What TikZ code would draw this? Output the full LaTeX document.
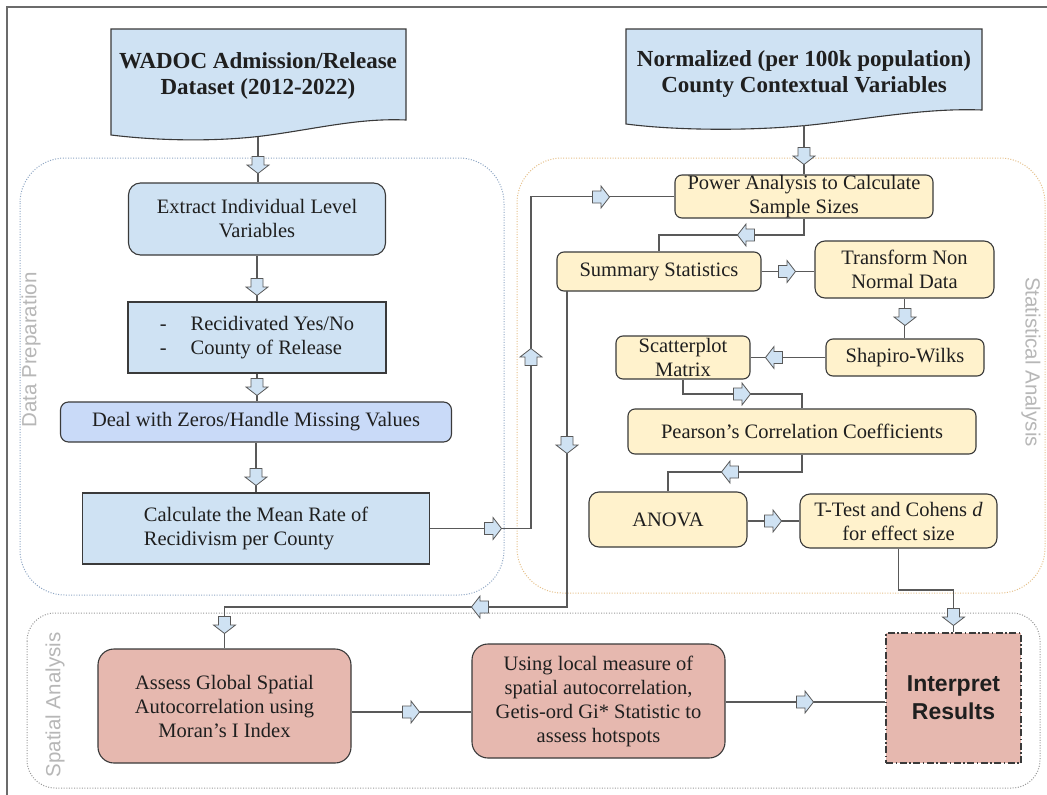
\documentclass[tikz,border=0pt]{standalone}
\usepackage{fontspec}
\setmainfont{Liberation Serif}
\newfontfamily\arialfont{Liberation Sans}
\usetikzlibrary{calc}
\definecolor{blueA}{HTML}{CFE2F3}
\definecolor{blueB}{HTML}{C9DAF8}
\definecolor{yellowA}{HTML}{FFF2CC}
\definecolor{redA}{HTML}{E6B8AF}
\definecolor{boxline}{HTML}{3A3A3A}
\definecolor{conncol}{HTML}{595959}
\definecolor{txt}{HTML}{1F1F1F}
\definecolor{prepcol}{HTML}{8EA6C4}
\definecolor{statcol}{HTML}{E6C08A}
\definecolor{spatcol}{HTML}{999999}
\definecolor{labelcol}{HTML}{B7B7B7}
\definecolor{framecol}{HTML}{6B6B6B}
\tikzset{
  box/.style={draw=boxline, line width=1.1pt, inner sep=0pt, align=center,
    font=\fontsize{20.5}{24}\selectfont, text=txt},
  bluebox/.style={box, fill=blueA},
  yellowbox/.style={box, fill=yellowA, rounded corners=7pt},
  redbox/.style={box, fill=redA, rounded corners=16pt},
  grp/.style={line width=1pt, dash pattern=on 1pt off 1.6pt},
  grplabel/.style={font=\arialfont\fontsize{20.5}{24}\selectfont, text=labelcol, inner sep=0pt},
  conn/.style={draw=conncol, line width=1.1pt},
  doctext/.style={font=\bfseries\fontsize{23}{26}\selectfont, text=txt, align=center, inner sep=0pt},
  docshape/.style={fill=blueA, draw=boxline, line width=1.1pt},
  pics/barrow/.style={code={
    \draw[fill=blueA, draw=conncol, line width=0.8pt, line join=miter]
      (-8.5,-6) -- (0,-6) -- (0,-11) -- (8.5,0) -- (0,11) -- (0,6) -- (-8.5,6) -- cycle;}}
}
\begin{document}
\begin{tikzpicture}[x=1pt,y=-1pt]
\useasboundingbox (0,0) rectangle (1047,795);
\fill[white] (0,0) rectangle (1047,795);
% outer frame
\draw[framecol, line width=1.5pt] (7,795) -- (7,7) -- (1047,7);

% group containers
\draw[grp, draw=prepcol, rounded corners=45pt] (20,158) rectangle (504,595);
\draw[grp, draw=statcol, rounded corners=45pt] (517,158) rectangle (1045,593);
\draw[grp, draw=spatcol, rounded corners=28pt] (27,613) rectangle (1040,788);
\node[grplabel, rotate=90] (lprep) at (31,350) {Data Preparation};
\node[grplabel, rotate=-90] (lstat) at (1031,362) {Statistical Analysis};
\node[grplabel, rotate=90] (lspat) at (55,705) {Spatial Analysis};

% document shapes
\draw[docshape] (111,135) -- (111,29) -- (406,29) -- (406,120)
   .. controls (360,118) and (320,128) .. (270,135)
   .. controls (220,142) and (160,141) .. (111,135) -- cycle;
\node[doctext] (doc1) at (258,76) {WADOC Admission/Release\\Dataset (2012-2022)};
\coordinate (doc1b) at (258,137);

\draw[docshape] (626,124) -- (626,29) -- (982,29) -- (982,110)
   .. controls (930,108) and (880,117) .. (820,124)
   .. controls (760,131) and (680,131) .. (626,124) -- cycle;
\node[doctext] (doc2) at (804,74) {Normalized (per 100k population)\\County Contextual Variables};
\coordinate (doc2b) at (804,125);

% data preparation boxes
\node[bluebox, rounded corners=12pt, minimum width=257, minimum height=72] (extract) at (257,219)
  {Extract Individual Level\\Variables};
\node[bluebox, minimum width=258, minimum height=71] (recid) at (257,337.5)
  {\begin{tabular}{@{}l@{\hspace{24pt}}l@{}}-&Recidivated Yes/No\\-&County of Release\end{tabular}};
\node[box, fill=blueB, rounded corners=8pt, minimum width=391, minimum height=40] (deal) at (256,422)
  {Deal with Zeros/Handle Missing Values};
\node[bluebox, minimum width=347, minimum height=71, align=left] (mean) at (256,528.5)
  {Calculate the Mean Rate of\\Recidivism per County};

% statistical analysis boxes
\node[yellowbox, minimum width=258, minimum height=43] (power) at (804,196.5)
  {Power Analysis to Calculate\\Sample Sizes};
\node[yellowbox, minimum width=204, minimum height=39] (summary) at (659,271.5)
  {Summary Statistics};
\node[yellowbox, rounded corners=10pt, minimum width=179, minimum height=57] (transform) at (904.5,269.5)
  {Transform Non\\Normal Data};
\node[yellowbox, minimum width=158, minimum height=37] (shapiro) at (905,357.5)
  {Shapiro-Wilks};
\node[yellowbox, minimum width=134, minimum height=43] (scatter) at (683,357.5)
  {Scatterplot\\Matrix};
\node[yellowbox, minimum width=348, minimum height=45] (pearson) at (802,431.5)
  {Pearson’s Correlation Coefficients};
\node[yellowbox, rounded corners=10pt, minimum width=158, minimum height=55] (anova) at (668,519.5)
  {ANOVA};
\node[yellowbox, rounded corners=10pt, minimum width=197, minimum height=54] (ttest) at (898.5,521)
  {T-Test and Cohens \textit{d}\\for effect size};

% spatial analysis boxes
\node[redbox, minimum width=253, minimum height=114] (assess) at (224.5,706)
  {Assess Global Spatial\\Autocorrelation using\\Moran’s I Index};
\node[redbox, minimum width=253, minimum height=114] (using) at (598.5,701)
  {Using local measure of\\spatial autocorrelation,\\Getis-ord Gi* Statistic to\\assess hotspots};
\node[box, fill=redA, line width=1.2pt, dash pattern=on 7pt off 2.5pt on 1.5pt off 2.5pt,
  minimum width=135, minimum height=130, font=\arialfont\bfseries\fontsize{23}{28}\selectfont] (interp) at (953.5,698)
  {Interpret\\Results};

% connectors
\draw[conn] (doc1b) -- (doc1b |- extract.north);
\draw[conn] (extract.south) -- (extract.south |- recid.north);
\draw[conn] (recid.south) -- (recid.south |- deal.north);
\draw[conn] (deal.south) -- (deal.south |- mean.north);
\coordinate (c5) at (531,528.5);
\draw[conn] (mean.east) -- (c5) |- (power.west);
\draw[conn] (doc2b) -- (power.north);
\coordinate (c7) at (804,235);
\draw[conn] (power.south) -- (c7) -| (summary.north);
\draw[conn] (summary.east) -- (summary.east -| transform.west);
\draw[conn] (transform.south) -- (transform.south |- shapiro.north);
\draw[conn] (shapiro.west) -- (scatter.east);
\coordinate (c11) at (683,394);
\draw[conn] (scatter.south) -- (c11) -| (pearson.north);
\coordinate (c12) at (802,472);
\draw[conn] (pearson.south) -- (c12) -| (anova.north);
\draw[conn] (anova.east |- ttest.west) -- (ttest.west);
\coordinate (c14a) at (898.5,590);
\coordinate (c14b) at (953.5,590);
\draw[conn] (ttest.south) -- (c14a) -- (c14b) -- (interp.north);
\coordinate (c15a) at (567,291);
\coordinate (c15b) at (567,607);
\coordinate (c15c) at (224.5,607);
\draw[conn] (c15a) -- (c15b) -- (c15c) -- (assess.north);
\draw[conn] (assess.east |- 0,712) -- (using.west |- 0,712);
\draw[conn] (using.east |- 0,702) -- (interp.west |- 0,702);

% block arrows
\pic[rotate=-90] at (258,165) {barrow};
\pic[rotate=-90] at (257,287) {barrow};
\pic[rotate=-90] at (257,387) {barrow};
\pic[rotate=-90] at (256,477) {barrow};
\pic at (493,528.5) {barrow};
\pic[rotate=90] at (531,357) {barrow};
\pic at (601,197) {barrow};
\pic[rotate=-90] at (804,156) {barrow};
\pic[rotate=180] at (746,235) {barrow};
\pic at (787,271.5) {barrow};
\pic[rotate=-90] at (905,317) {barrow};
\pic[rotate=180] at (774,357.5) {barrow};
\pic at (742,394) {barrow};
\pic[rotate=180] at (730,472) {barrow};
\pic at (773,521) {barrow};
\pic[rotate=-90] at (953.5,617) {barrow};
\pic[rotate=-90] at (567,445) {barrow};
\pic[rotate=180] at (480,607) {barrow};
\pic[rotate=-90] at (224.5,625) {barrow};
\pic at (411,712) {barrow};
\pic at (805,702) {barrow};
\end{tikzpicture}
\end{document}
